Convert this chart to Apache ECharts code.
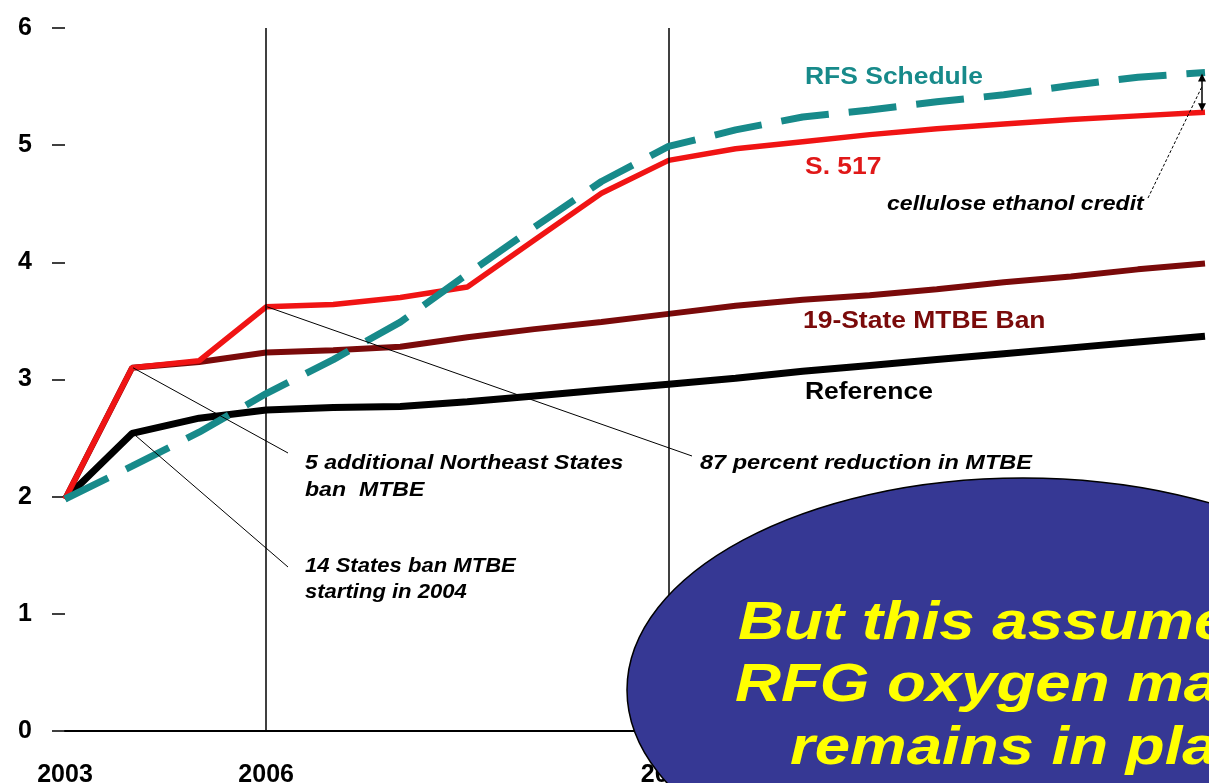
<!DOCTYPE html>
<html>
<head>
<meta charset="utf-8">
<script src="https://cdn.jsdelivr.net/npm/echarts@6/dist/echarts.min.js"></script>
<style>
html,body{margin:0;padding:0;background:#fff;}
#chart{width:1209px;height:783px;}
</style>
</head>
<body>
<div id="chart"></div>
<script>
// ---- data (billion gallons) ----
const years = [2003,2004,2005,2006,2007,2008,2009,2010,2011,2012,2013,2014,2015,2016,2017,2018,2019,2020];
const referenceCase = [1.98,2.54,2.67,2.74,2.76,2.77,2.81,2.86,2.91,2.96,3.01,3.07,3.12,3.17,3.22,3.27,3.32,3.37];
const mtbeBan19 = [1.98,3.10,3.15,3.23,3.25,3.28,3.36,3.43,3.49,3.56,3.63,3.68,3.72,3.77,3.83,3.88,3.94,3.99];
const s517 = [1.98,3.10,3.16,3.62,3.64,3.70,3.79,4.19,4.59,4.87,4.97,5.03,5.09,5.14,5.18,5.22,5.25,5.28];
const rfsSchedule = [1.98,2.26,2.55,2.88,3.17,3.49,3.90,4.30,4.69,4.99,5.13,5.24,5.30,5.37,5.43,5.51,5.58,5.62];
const xTickLabels = [2003,2006,2012,2020];
const milestoneYears = [2006,2012];
const yTicks = [0,1,2,3,4,5,6];

const FONT = 'Liberation Sans, Arial, Helvetica, sans-serif';
const chart = echarts.init(document.getElementById('chart'), null, {renderer:'canvas'});

function pairs(vals){ return years.map((y,i)=>[y, vals[i]]); }

const option = {
  animation:false,
  backgroundColor:'#ffffff',
  grid:{left:65,right:4,top:28,bottom:52,containLabel:false,outerBoundsMode:'none'},
  xAxis:{
    type:'value', min:2003, max:2020, interval:1,
    axisLine:{show:true,onZero:false,lineStyle:{color:'#000',width:2}},
    axisTick:{show:false},
    splitLine:{show:false},
    axisLabel:{
      margin:32, color:'#000', fontSize:25, fontWeight:'bold', fontFamily:FONT,
      showMinLabel:true, showMaxLabel:true,
      formatter:v=> xTickLabels.indexOf(v)>=0 ? String(v) : ''
    }
  },
  yAxis:{
    type:'value', min:yTicks[0], max:yTicks[yTicks.length-1], interval:1,
    axisLine:{show:false},
    axisTick:{show:true,length:13,lineStyle:{color:'#000',width:1.5}},
    splitLine:{show:false},
    axisLabel:{margin:33,color:'#000',fontSize:25,fontWeight:'bold',fontFamily:FONT}
  },
  series:[
    {
      name:'Reference', type:'line', data:pairs(referenceCase), symbol:'none',
      lineStyle:{color:'#000000',width:7}, z:2,
      markLine:{
        silent:true, symbol:['none','none'], label:{show:false},
        lineStyle:{color:'#000',width:1.5,type:'solid'},
        data: milestoneYears.map(y=>({xAxis:y}))
      }
    },
    {name:'19-State MTBE Ban', type:'line', data:pairs(mtbeBan19), symbol:'none',
      lineStyle:{color:'#7a0a0a',width:6}, z:3},
    {name:'S. 517', type:'line', data:pairs(s517), symbol:'none',
      lineStyle:{color:'#f01414',width:5.5}, z:4},
    {name:'RFS Schedule', type:'line', data:pairs(rfsSchedule), symbol:'none',
      lineStyle:{color:'#178a8a',width:7,type:[48,20],cap:'butt'}, z:5}
  ]
};
chart.setOption(option);

function px(x,y){ return chart.convertToPixel({gridIndex:0},[x,y]); }

function label(x,y,text,color,size,opts){
  opts = opts||{};
  return {
    type:'text', x:x, y:y, scaleX:opts.scaleX||1, z:opts.z||20,
    style:{
      text:text, fill:color, fontSize:size, fontFamily:FONT,
      fontWeight:opts.weight||'bold', fontStyle:opts.style||'normal',
      align:'left', verticalAlign:'middle'
    }
  };
}
function seg(a,b,opts){
  opts=opts||{};
  return {type:'line', z:opts.z||15, silent:true,
    shape:{x1:a[0],y1:a[1],x2:b[0],y2:b[1]},
    style:{stroke:'#000',lineWidth:opts.w||1,lineDash:opts.dash||null}};
}

const k04a = px(2004, mtbeBan19[1]);
const k04b = px(2004, referenceCase[1]);
const k06 = px(2006, s517[3]);
const topEnd = px(2020, rfsSchedule[17]);
const botEnd = px(2020, s517[17]);
const ax = topEnd[0]-3;

const graphics = [
  // leader lines
  seg([k04a[0]+1,k04a[1]],[288,453]),
  seg([k04b[0]+1,k04b[1]],[288,567]),
  seg([k06[0]+1,k06[1]],[692,456]),
  seg([1148,198],[ax,topEnd[1]+14],{dash:[3,2]}),
  // double arrow
  seg([ax,topEnd[1]+3],[ax,botEnd[1]-3],{w:1.5}),
  {type:'polygon',z:16,shape:{points:[[ax,topEnd[1]+1],[ax-4,topEnd[1]+9],[ax+4,topEnd[1]+9]]},style:{fill:'#000'}},
  {type:'polygon',z:16,shape:{points:[[ax,botEnd[1]-1],[ax-4,botEnd[1]-9],[ax+4,botEnd[1]-9]]},style:{fill:'#000'}},
  // series labels
  label(805,78,'RFS Schedule','#178a8a',23,{scaleX:1.15}),
  label(805,168,'S. 517','#e01818',23,{scaleX:1.15}),
  label(803,322,'19-State MTBE Ban','#7a0a0a',23,{scaleX:1.15}),
  label(805,393,'Reference','#000',23,{scaleX:1.15}),
  // annotations
  label(887,204,'cellulose ethanol credit','#000',21,{style:'italic',scaleX:1.1}),
  label(305,463,'5 additional Northeast States','#000',21,{style:'italic',scaleX:1.1}),
  label(305,490,'ban  MTBE','#000',21,{style:'italic',scaleX:1.1}),
  label(700,463,'87 percent reduction in MTBE','#000',21,{style:'italic',scaleX:1.12}),
  label(305,566,'14 States ban MTBE','#000',21,{style:'italic',scaleX:1.05}),
  label(305,592,'starting in 2004','#000',21,{style:'italic',scaleX:1.05}),
  // callout ellipse
  {type:'ellipse', z:100, silent:true,
    shape:{cx:1023,cy:690,rx:396,ry:212},
    style:{fill:'#363894',stroke:'#000',lineWidth:1.5}},
  label(738,624,'But this assumes the','#ffff00',53,{style:'italic',scaleX:1.2,z:101}),
  label(735,686,'RFG oxygen mandate','#ffff00',53,{style:'italic',scaleX:1.2,z:101}),
  label(790,749,'remains in place','#ffff00',53,{style:'italic',scaleX:1.2,z:101})
];
chart.setOption({graphic:{elements:graphics}});
</script>
</body>
</html>
